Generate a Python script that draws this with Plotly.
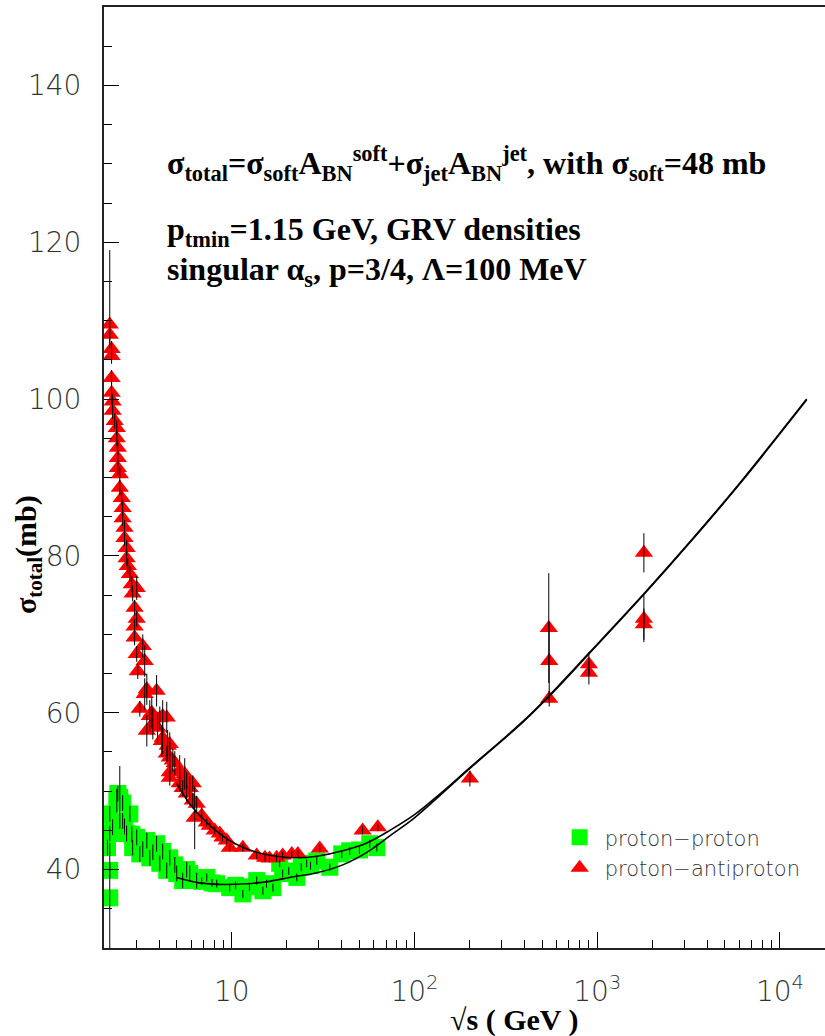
import plotly.graph_objects as go

# ---------------- data ----------------
# proton-antiproton (red triangles): sqrt(s) [GeV], sigma [mb], error
pbar_s = [2.15, 2.15, 2.20, 2.20, 2.20, 2.20, 2.23, 2.23, 2.29, 2.35, 2.35, 2.38, 2.38, 2.38,
          2.44, 2.44, 2.50, 2.53, 2.53, 2.59, 2.59, 2.66, 2.66, 2.70, 2.77, 2.84, 2.87, 3.02,
          2.94, 3.02, 2.94, 2.94, 3.26, 3.02, 3.34, 3.06, 3.43, 3.88, 3.14, 3.34, 3.65, 4.19,
          3.56, 4.04, 4.41, 3.70, 3.43, 3.93, 4.19, 4.14, 4.46, 4.58, 4.41, 4.58, 4.76, 4.88,
          4.58, 5.19, 5.53, 5.19, 5.67, 4.58, 5.89, 6.12, 5.67, 5.39, 6.12, 6.43, 6.27, 6.85,
          7.30, 7.58, 8.07, 8.60, 8.90, 9.39, 9.75, 11.5, 13.7, 15.2, 16.1, 17.6, 19.0, 21.3,
          23.0, 30.3, 52.0, 63.0, 201, 543, 546, 546, 900, 900, 1800, 1800, 1800]
pbar_sig = [109.5, 108.2, 106.4, 105.5, 102.7, 100.8, 99.7, 98.5, 97.2, 96.3, 95.0, 93.8, 92.5, 91.2,
            90.4, 88.7, 87.4, 86.1, 84.8, 83.6, 82.3, 81.0, 79.7, 78.7, 77.7, 76.4, 75.2, 75.9,
            73.4, 72.0, 71.0, 69.6, 68.5, 67.5, 66.6, 65.3, 63.0, 62.8, 60.5, 62.4, 60.0, 59.6,
            59.6, 59.3, 59.4, 58.6, 57.7, 58.1, 56.8, 56.4, 55.8, 56.0, 54.8, 54.3, 53.9, 53.6,
            52.4, 52.6, 52.2, 51.0, 51.4, 51.7, 50.4, 51.0, 49.7, 50.4, 48.8, 48.4, 46.6, 46.9,
            46.0, 45.6, 45.0, 44.6, 44.1, 43.7, 42.8, 42.8, 41.8, 41.5, 41.4, 41.5, 41.8, 42.0,
            42.0, 42.7, 45.0, 45.4, 51.6, 70.8, 66.6, 61.8, 66.2, 65.1, 80.4, 72.0, 71.3]
pbar_err_up = [9.5, 1, 1, 1, 1, 1.5, 1, 1, 1, 1, 1, 1, 1, 1,
               1, 1, 1, 1, 1, 1, 1, 1, 1, 1, 1, 1, 1, 1.5,
               1, 1, 1, 1, 1.5, 1, 2, 1, 2, 2, 1, 2, 2, 2,
               2, 1.5, 2, 2, 2, 2, 2, 2, 2, 1.5, 1, 2, 1.5, 1.5,
               1, 2, 2, 1, 1, 1, 1.5, 1, 1, 1, 1, 1, 4, 1,
               0.5, 0.5, 0.5, 0.5, 0.5, 0.5, 0.5, 0.5, 0.5, 0.5, 0.5, 0.5, 0.5, 0.5,
               0.5, 0.5, 0.5, 0.5, 1, 7, 5, 1, 1.5, 1.5, 2.5, 3, 2]
pbar_err_dn = [3] + pbar_err_up[1:]

# proton-proton (green squares)
pp_s = [2.09, 2.15, 2.15, 2.15, 2.15, 2.23, 2.35, 2.38, 2.44, 2.53, 2.77, 2.53, 2.66, 3.02,
        2.87, 3.14, 3.43, 3.88, 3.56, 4.04, 4.58, 4.41, 5.00, 5.39, 5.89, 6.43, 7.30, 8.28,
        9.75, 11.5, 13.7, 14.8, 16.8, 19.0, 18.3, 22.7, 25.7, 29.2, 34.4, 44.2, 56.9, 62.2,
        2.59, 2.84, 3.26, 3.70, 4.19, 4.88, 5.67, 6.85, 7.80, 10.5, 12.5, 15.5, 20.5, 24.0,
        27.0, 40.0, 50.0]
pp_sig = [42.8, 39.9, 36.4, 44.6, 47.1, 45.4, 48.8, 49.7, 49.2, 48.5, 47.1, 46.2, 44.6, 44.1,
          42.8, 42.0, 43.7, 43.3, 41.5, 40.8, 41.5, 39.9, 39.5, 38.6, 39.5, 38.6, 39.0, 38.2,
          37.7, 36.9, 38.6, 37.3, 37.7, 39.5, 40.8, 39.0, 40.8, 41.1, 40.3, 42.4, 43.3, 42.8,
          45.5, 44.5, 42.6, 42.2, 42.3, 40.6, 40.0, 38.5, 38.3, 38.0, 37.8, 38.2, 39.8, 40.3,
          40.5, 42.0, 42.5]
pp_err = [1, 1, 7, 1, 1, 1, 1.5, 1, 4, 1, 1, 1, 1, 1,
          1, 1, 1, 1, 1, 1, 1, 1, 1, 1, 1, 1, 0.5, 0.5,
          0.5, 0.5, 0.5, 0.5, 0.5, 0.5, 0.5, 0.5, 0.5, 0.5, 0.5, 0.5, 0.5, 0.5,
          1, 1, 1, 1, 1, 1, 1, 0.5, 0.5, 0.5, 0.5, 0.5, 0.5, 0.5,
          0.5, 0.5, 0.5]

# model curves
curve_pbar_s = [5.0, 5.89, 7.3, 9.75, 13.7, 17.6, 22.7, 29.2, 40.5, 54.8, 73.3, 100, 137, 201,
                392, 551, 900, 1820, 3215, 6030, 14000]
curve_pbar_sig = [51.0, 48.4, 46.0, 43.7, 42.2, 41.7, 41.5, 41.7, 42.4, 43.4, 45.0, 47.0, 49.6, 53.0,
                  58.9, 62.3, 67.6, 75.3, 81.8, 89.3, 100.0]
curve_pp_s = [5.0, 6.68, 8.9, 12.1, 16.1, 20.7, 29.2, 40.5, 54.8, 73.3, 100, 137, 201,
              392, 551, 900, 1820, 3215, 6030, 14000]
curve_pp_sig = [39.0, 38.3, 38.1, 38.2, 38.5, 39.0, 39.6, 40.6, 42.2, 44.3, 46.6, 49.4, 52.9,
                58.8, 62.2, 67.5, 75.2, 81.7, 89.2, 99.9]

y_ticks = [40, 60, 80, 100, 120, 140]
x_tickvals = [10, 100, 1000, 10000]
x_ticktext = ["10", "10<sup>2</sup>", "10<sup>3</sup>", "10<sup>4</sup>"]

# ---------------- figure ----------------
THIN = "DejaVu Sans ExtraLight, DejaVu Sans Light, Lato, DejaVu Sans, sans-serif"
TICKFONT = dict(family=THIN, size=28, color="#333333")
SERIF = "Liberation Serif, Times New Roman, serif"

fig = go.Figure()

fig.add_trace(go.Scatter(
    x=pp_s, y=pp_sig, mode="markers", name="proton\u2212proton",
    marker=dict(symbol="square", size=17, color="#00ff00", line=dict(width=0)),
))
fig.add_trace(go.Scatter(
    x=pbar_s, y=pbar_sig, mode="markers", name="proton\u2212antiproton",
    marker=dict(symbol="triangle-up", size=16, color="#ff0000", line=dict(width=0)),
))
# error bars drawn over the markers
fig.add_trace(go.Scatter(
    x=pp_s, y=pp_sig, mode="markers", showlegend=False,
    marker=dict(size=1, color="rgba(0,0,0,0)"),
    error_y=dict(type="data", array=pp_err, color="black", thickness=1, width=0),
))
fig.add_trace(go.Scatter(
    x=pbar_s, y=pbar_sig, mode="markers", showlegend=False,
    marker=dict(size=1, color="rgba(0,0,0,0)"),
    error_y=dict(type="data", array=pbar_err_up, arrayminus=pbar_err_dn, symmetric=False,
                 color="black", thickness=1, width=0),
))
fig.add_trace(go.Scatter(
    x=curve_pbar_s, y=curve_pbar_sig, mode="lines", showlegend=False,
    line=dict(color="black", width=1.6, shape="spline"),
))
fig.add_trace(go.Scatter(
    x=curve_pp_s, y=curve_pp_sig, mode="lines", showlegend=False,
    line=dict(color="black", width=1.6, shape="spline"),
))

minor_x = [m * 10 ** d for d in range(0, 5) for m in range(2, 10)]

fig.update_xaxes(
    type="log", range=[0.3010, 4.2463],
    tickvals=x_tickvals, ticktext=x_ticktext, tickfont=TICKFONT,
    ticks="inside", ticklen=16, tickwidth=1.3, tickcolor="black",
    ticklabelstandoff=17,
    minor=dict(tickvals=minor_x, ticks="inside", ticklen=8, tickwidth=1.3, tickcolor="black"),
    showline=True, linecolor="#222222", linewidth=2, mirror=True,
    showgrid=False, zeroline=False,
)
fig.update_yaxes(
    range=[30, 150], tickvals=y_ticks, tickfont=TICKFONT,
    ticks="inside", ticklen=15, tickwidth=1.3, tickcolor="black",
    ticklabelstandoff=15,
    minor=dict(dtick=5, ticks="inside", ticklen=8, tickwidth=1.3, tickcolor="black"),
    showline=True, linecolor="#222222", linewidth=2, mirror=False,
    showgrid=False, zeroline=False,
)

ann = [
    dict(text="σ<sub>total</sub>=σ<sub>soft</sub>A<sub>BN</sub><sup>soft</sup>+σ<sub>jet</sub>A<sub>BN</sub><sup>jet</sup>, with σ<sub>soft</sub>=48 mb",
         x=0.0846, y=0.834),
    dict(text="p<sub>tmin</sub>=1.15 GeV, GRV densities", x=0.0846, y=0.761),
    dict(text="singular α<sub>s</sub>, p=3/4, Λ=100 MeV", x=0.0846, y=0.7185),
]
for a in ann:
    fig.add_annotation(xref="paper", yref="paper", xanchor="left", yanchor="middle",
                       showarrow=False, font=dict(family=SERIF, size=32, color="black", weight="bold"),
                       **a)
fig.add_annotation(text="σ<sub>total</sub>(mb)", xref="paper", yref="paper", x=-0.1054, y=0.4176,
                   textangle=-90, showarrow=False, xanchor="center", yanchor="middle",
                   font=dict(family=SERIF, size=30, color="black", weight="bold"))
fig.add_annotation(text="√s ( GeV )", xref="paper", yref="paper", x=0.5687, y=-0.0765,
                   showarrow=False, xanchor="center", yanchor="middle",
                   font=dict(family=SERIF, size=30, color="black", weight="bold"))

fig.update_layout(
    width=825, height=1036,
    margin=dict(l=104, r=0, t=7, b=88),
    paper_bgcolor="white", plot_bgcolor="white",
    showlegend=True,
    legend=dict(x=0.625, y=0.139, xanchor="left", yanchor="top", itemwidth=40,
                font=dict(family=THIN, size=21, color="#333333"),
                bgcolor="rgba(0,0,0,0)", tracegroupgap=4),
)

fig.write_html("out.html")
